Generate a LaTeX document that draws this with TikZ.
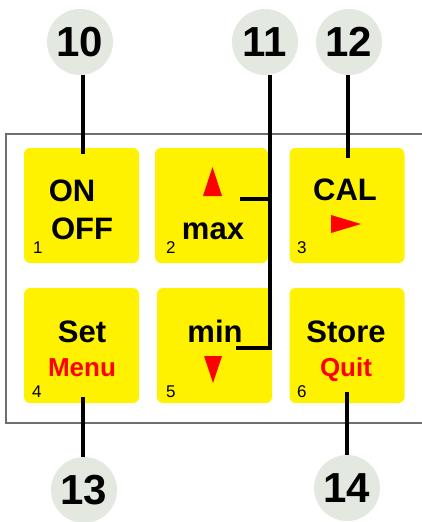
\documentclass[tikz,border=0pt]{standalone}
\usepackage{fontspec}
\setmainfont{Liberation Sans}
\usepackage{xcolor}
\usetikzlibrary{positioning}

\definecolor{bubble}{HTML}{E3E8E1}
\definecolor{frame}{HTML}{6E6E6E}

\tikzset{
  key/.style={fill=yellow, rounded corners=6pt, minimum width=115pt, minimum height=115pt, inner sep=0pt},
  big/.style={font=\fontsize{31}{31}\selectfont\bfseries, inner sep=0pt, anchor=base},
  sub/.style={font=\fontsize{26}{26}\selectfont\bfseries, text=red, inner sep=0pt, anchor=base},
  num/.style={font=\fontsize{17}{17}\selectfont, inner sep=0pt, anchor=base west},
  bub/.style={circle, fill=bubble, minimum size=66pt, inner sep=0pt, font=\fontsize{42}{42}\selectfont\bfseries},
  lead/.style={line width=4pt}
}

\begin{document}
\begin{tikzpicture}[x=1pt, y=-1pt]
\useasboundingbox (0,0) rectangle (422,522);
\draw[frame, line width=1.2pt] (6,134) rectangle (426,423);

% keys
\node[key] (k1) at (81.5,205.5) {};
\node[key, minimum width=113pt] (k2) at (211.5,205.5) {};
\node[key] (k3) at (347,205.5) {};
\node[key] (k4) at (81.5,345.5) {};
\node[key] (k5) at (214.5,345.5) {};
\node[key] (k6) at (347,345.5) {};

\node[big] (on) at (72,201) {ON};
\node[big] (off) at (82,239) {OFF};
\node[big] (max) at (213,239) {max};
\node[big] (cal) at (345,200) {CAL};
\node[big] (set) at (82,342) {Set};
\node[sub] (menu) at (82,376) {Menu};
\node[big] (min) at (215,342) {min};
\node[big] (store) at (346,342) {Store};
\node[sub] (quit) at (346,376) {Quit};

\fill[red] (203,196) -- (212.5,167) -- (222,196) -- cycle;
\fill[red] (331,215) -- (361,224) -- (331,233) -- cycle;
\fill[red] (204,356) -- (222,356) -- (213,383) -- cycle;

\node[num] (n1) at (33,253) {1};
\node[num] (n2) at (166,253) {2};
\node[num] (n3) at (297,253) {3};
\node[num] (n4) at (32,397) {4};
\node[num] (n5) at (166,397) {5};
\node[num] (n6) at (297,397) {6};

% callouts
\node[bub] (c10) at (80,42) {10};
\node[bub] (c11) at (265,42) {11};
\node[bub] (c12) at (349,42) {12};
\node[bub] (c13) at (84,490) {13};
\node[bub] (c14) at (347,488) {14};

\coordinate (t10) at (83,154);
\coordinate (t12) at (348,158);
\coordinate (t13) at (83,397);
\coordinate (t14) at (347,392);
\coordinate (up) at (240,199);
\coordinate (dn) at (236,348);
\coordinate (b11) at (270,348);

\draw[lead] (c10.south -| t10) -- (t10);
\draw[lead] (c12.south -| t12) -- (t12);
\draw[lead] (t13) -- (t13 |- c13.north);
\draw[lead] (t14) -- (t14 |- c14.north);
\draw[lead] (c11.south -| b11) -- (b11) -- (dn);
\draw[lead] (up) -- (up -| b11);
\end{tikzpicture}
\end{document}
